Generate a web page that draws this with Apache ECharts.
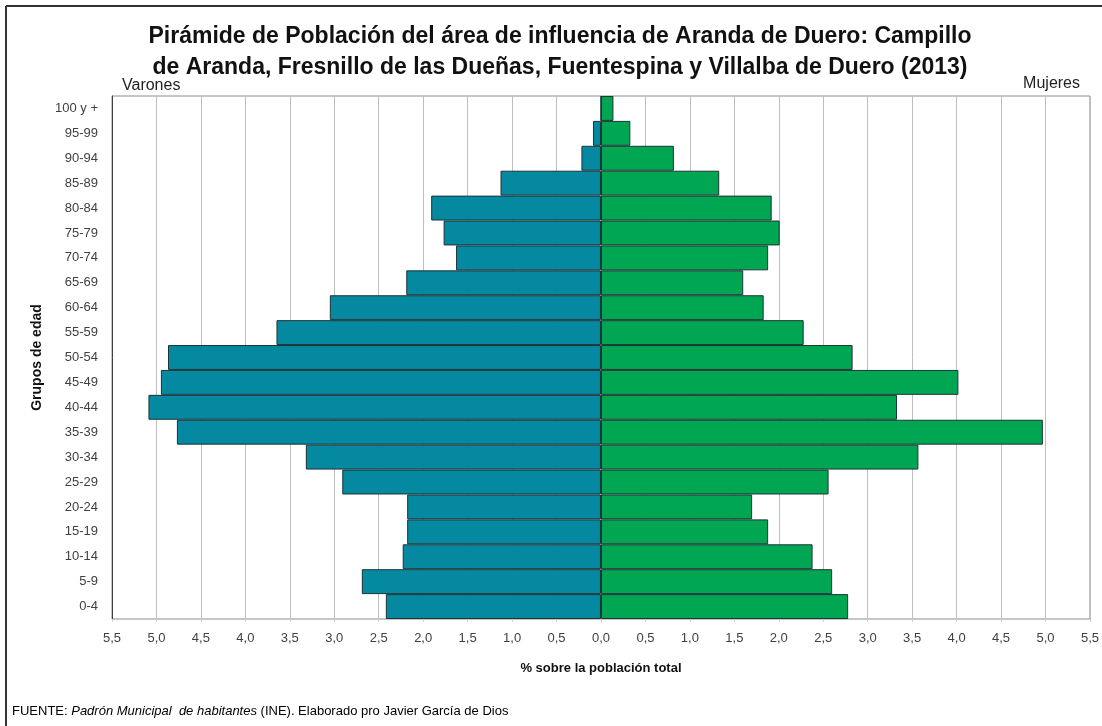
<!DOCTYPE html>
<html>
<head>
<meta charset="utf-8">
<script src="https://cdn.jsdelivr.net/npm/echarts@6/dist/echarts.min.js"></script>
<style>
	html, body { margin: 0; padding: 0; background: #fff; }
	#main { width: 1102px; height: 726px; }
</style>
</head>
<body>
<div id="main"></div>
<script>
	// grupos de edad, de abajo arriba
	const grupos = ['0-4', '5-9', '10-14', '15-19', '20-24', '25-29', '30-34', '35-39', '40-44', '45-49',
		'50-54', '55-59', '60-64', '65-69', '70-74', '75-79', '80-84', '85-89', '90-94', '95-99', '100 y +']
	// % varones (se dibujan a la izquierda)
	const varones = [2.42, 2.69, 2.23, 2.18, 2.18, 2.91, 3.32, 4.77, 5.09, 4.95,
		4.87, 3.65, 3.05, 2.19, 1.63, 1.77, 1.91, 1.13, 0.22, 0.09, 0]
	// % mujeres
	const mujeres = [2.78, 2.60, 2.38, 1.88, 1.70, 2.56, 3.57, 4.97, 3.33, 4.02,
		2.83, 2.28, 1.83, 1.60, 1.88, 2.01, 1.92, 1.33, 0.82, 0.33, 0.14]

	const FONT = '"Liberation Sans Narrow", "Liberation Sans", sans-serif'

	const myChart = echarts.init(document.getElementById('main'))

	const option = {
		backgroundColor: '#fff',
		animation: false,
		title: {
			text: 'Pirámide de Población del área de influencia de Aranda de Duero: Campillo\nde Aranda, Fresnillo de las Dueñas, Fuentespina y Villalba de Duero (2013)',
			left: 555,
			textAlign: 'center',
			top: 16,
			textStyle: {
				fontFamily: FONT,
				fontSize: 23,
				fontWeight: 'bold',
				color: '#111',
				lineHeight: 31
			}
		},
		grid: {
			left: 112,
			right: 10,
			top: 96,
			bottom: 107,
			show: true,
			borderColor: '#8c8c8c',
			borderWidth: 1
		},
		xAxis: {
			type: 'value',
			min: -5.5,
			max: 5.5,
			interval: 0.5,
			name: '% sobre la población total',
			nameLocation: 'middle',
			nameGap: 43,
			nameTextStyle: {
				fontFamily: FONT,
				fontSize: 13,
				fontWeight: 'bold',
				color: '#111'
			},
			axisLine: { show: false },
			axisTick: { show: true, length: 3, lineStyle: { color: '#d0d0d0' } },
			axisLabel: {
				fontFamily: FONT,
				fontSize: 13,
				color: '#404040',
				margin: 13,
				formatter: v => Math.abs(v).toFixed(1).replace('.', ',')
			},
			splitLine: { show: true, lineStyle: { color: '#bfbfbf', width: 1 } }
		},
		yAxis: {
			type: 'category',
			data: grupos,
			name: 'Grupos de edad',
			nameLocation: 'middle',
			nameGap: 62,
			nameRotate: 90,
			nameTextStyle: {
				fontFamily: FONT,
				fontSize: 14,
				fontWeight: 'bold',
				color: '#111'
			},
			axisLine: { show: true, onZero: false, lineStyle: { color: '#404040' } },
			axisTick: { show: false },
			axisLabel: {
				fontFamily: FONT,
				fontSize: 13,
				color: '#404040',
				margin: 14
			},
			splitLine: { show: false }
		},
		series: [{
			name: 'Varones',
			type: 'bar',
			stack: 'piramide',
			barCategoryGap: '0%',
			data: varones.map(v => -v),
			itemStyle: { color: '#0489a0', borderColor: '#1d3336', borderWidth: 1 }
		}, {
			name: 'Mujeres',
			type: 'bar',
			stack: 'piramide',
			barCategoryGap: '0%',
			data: mujeres,
			itemStyle: { color: '#00a651', borderColor: '#1d3336', borderWidth: 1 }
		}],
		graphic: [{
			// marco del gráfico
			type: 'line',
			shape: { x1: 6, y1: 6, x2: 1102, y2: 6 },
			style: { stroke: '#333', lineWidth: 2 }
		}, {
			type: 'line',
			shape: { x1: 6, y1: 6, x2: 6, y2: 726 },
			style: { stroke: '#333', lineWidth: 2 }
		}, {
			type: 'text',
			left: 122,
			top: 78,
			style: { text: 'Varones', font: '16px ' + FONT, fill: '#222' }
		}, {
			type: 'text',
			right: 22,
			top: 76,
			style: { text: 'Mujeres', font: '16px ' + FONT, fill: '#222' }
		}, {
			type: 'text',
			left: 12,
			top: 705,
			style: {
				text: '{n|FUENTE: }{i|Padrón Municipal  de habitantes}{n| (INE). Elaborado pro Javier García de Dios}',
				rich: {
					n: { fontFamily: FONT, fontSize: 13, color: '#333' },
					i: { fontFamily: FONT, fontSize: 13, fontStyle: 'italic', color: '#333' }
				}
			}
		}]
	}

	myChart.setOption(option)
</script>
</body>
</html>
